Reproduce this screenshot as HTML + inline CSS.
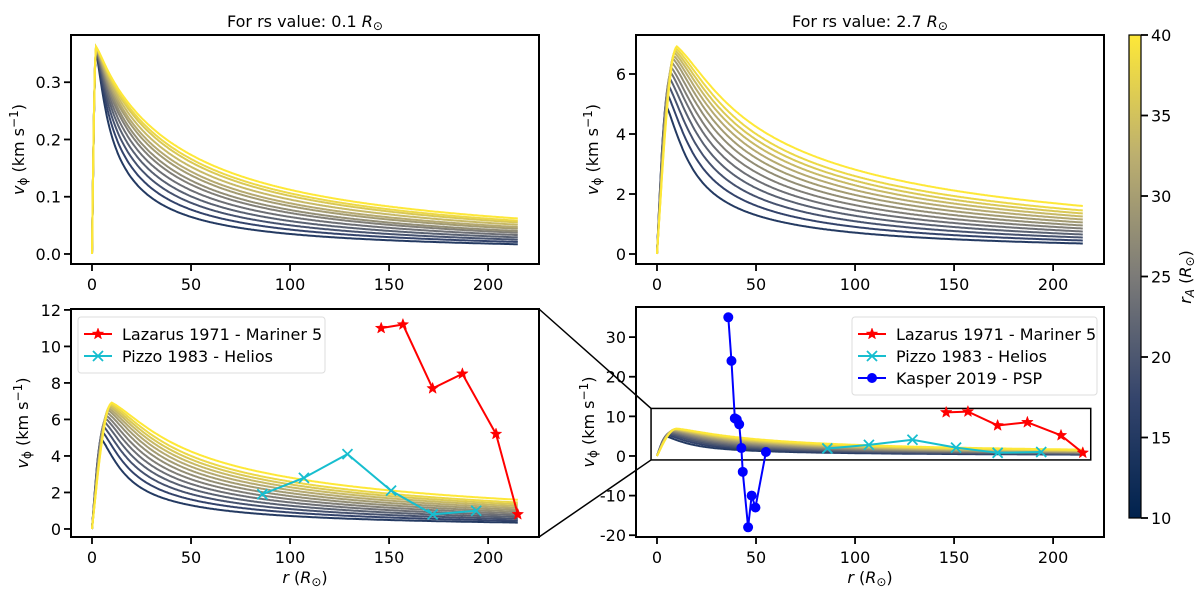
<!DOCTYPE html>
<html><head><meta charset="utf-8"><style>
body{margin:0;background:#fff;}
svg text{font-family:"DejaVu Sans","Liberation Sans",sans-serif;fill:#000;}
</style></head><body>
<svg id="fig" width="1200" height="592" viewBox="0 0 1200 592" xmlns="http://www.w3.org/2000/svg">
<defs>
<linearGradient id="cbgrad" x1="0" y1="1" x2="0" y2="0">
<stop offset="0" stop-color="#00224e"/><stop offset="0.25" stop-color="#35456c"/>
<stop offset="0.5" stop-color="#7c7b78"/><stop offset="0.75" stop-color="#bcaf6f"/><stop offset="1" stop-color="#fee838"/>
</linearGradient>
</defs>
</svg>
<script>
// ---- data ----
const rAValues = [10,12.5,15,17.5,20,22.5,25,27.5,30,32.5,35,37.5,40];
const rsSmallPeak = [0.355,0.356,0.357,0.358,0.358,0.359,0.36,0.36,0.361,0.361,0.362,0.362,0.362];
const rsSmallPeakR = [2,2,2,2,2,2,2,2,2,2,2,2,2];
const rsSmallEnd = [0.017,0.021,0.025,0.029,0.033,0.037,0.040,0.044,0.047,0.051,0.055,0.058,0.062];
const rsLargePeak = [4.9,5.3,5.6,5.85,6.05,6.2,6.35,6.5,6.6,6.7,6.78,6.85,6.92];
const rsLargePeakR = [5,5.5,6,6.5,7,7.5,8,8.3,8.7,9,9.3,9.7,10];
const rsLargeEnd = [0.35,0.45,0.55,0.65,0.75,0.85,0.95,1.05,1.15,1.25,1.35,1.45,1.6];
const lazarusR = [146,157,172,187,204,215];
const lazarusV = [11,11.2,7.7,8.5,5.2,0.8];
const pizzoR = [86,107,129,151,172,194];
const pizzoV = [1.9,2.8,4.1,2.1,0.8,1.0];
const kasperR = [36,37.6,39.3,40.3,41.5,42.6,43.3,46,47.8,49.7,55];
const kasperV = [35,24,9.5,9.2,8,2,-4,-18,-10,-13,1];
const cbTicks = [10,15,20,25,30,35,40];

const NS="http://www.w3.org/2000/svg";
const svg=document.getElementById('fig');
const FS=16;
function el(tag,attrs,parent){const e=document.createElementNS(NS,tag);for(const k in attrs)e.setAttribute(k,attrs[k]);(parent||svg).appendChild(e);return e;}
function cividis(t){const s=[[0,0,34,78],[0.25,53,69,108],[0.5,124,123,120],[0.75,188,175,111],[1,254,232,56]];
 for(let i=0;i<s.length-1;i++){if(t<=s[i+1][0]){const f=(t-s[i][0])/(s[i+1][0]-s[i][0]);return `rgb(${[1,2,3].map(j=>Math.round(s[i][j]+f*(s[i+1][j]-s[i][j]))).join(',')})`;}}return 'rgb(254,232,56)';}
function colorFor(rA){return cividis(0.17+0.83*(rA-10)/30);}
function curveVal(r,vp,rp,vEnd){
 const s=(vp*rp-vEnd*215)/(vEnd-vp);
 if(r<rp){const u=r/rp;return vp*Math.sin(Math.PI/2*u)*(1-0.05*(1-u));}
 const base=vp*(rp+s)/(r+s);
 // soften the hump just after the peak
 const h=Math.exp(-(r-rp)/(rp*1.2));
 return base+(vp-base)*h*0.5;
}

function makeAxes(name,box,xdom,ydom){
 const g=el('g',{});
 
 
 const sx=v=>box.x0+(v-xdom[0])/(xdom[1]-xdom[0])*(box.x1-box.x0);
 const sy=v=>box.y1-(v-ydom[0])/(ydom[1]-ydom[0])*(box.y1-box.y0);
 return {g,sx,sy,box};
}
function frame(ax,xticks,yticks,xlab,ylab,ylabX,yfmt){
 const {g,sx,sy,box}=ax;
 const r=el('rect',{x:box.x0,y:box.y0,width:box.x1-box.x0,height:box.y1-box.y0,fill:'none',stroke:'#000','stroke-width':2},g);
 
 
 xticks.forEach(v=>{el('line',{x1:sx(v),x2:sx(v),y1:box.y1,y2:box.y1+7,stroke:'#000','stroke-width':1.8},g);
  const t=el('text',{x:sx(v),y:box.y1+26,'text-anchor':'middle','font-size':FS},g);t.textContent=v;
  
  });
 yticks.forEach(v=>{el('line',{x1:box.x0-7,x2:box.x0,y1:sy(v),y2:sy(v),stroke:'#000','stroke-width':1.8},g);
  const t=el('text',{x:box.x0-10,y:sy(v)+6,'text-anchor':'end','font-size':FS},g);t.textContent=yfmt?yfmt(v):v;
  
  });
 if(xlab){const t=el('text',{x:(box.x0+box.x1)/2,y:box.y1+46,'text-anchor':'middle','font-size':FS},g);
  t.innerHTML='<tspan font-style="italic">r</tspan> (<tspan font-style="italic">R</tspan><tspan font-size="12" dy="3">⊙</tspan><tspan dy="-3">)</tspan>';
  
  }
 const cy=(box.y0+box.y1)/2;
 const yl=el('text',{x:ylabX,y:cy,'text-anchor':'middle','font-size':FS,transform:`rotate(-90 ${ylabX} ${cy})`},g);
 yl.innerHTML='<tspan font-style="italic">v</tspan><tspan font-size="12" dy="3">ϕ</tspan><tspan dy="-3"> (km s</tspan><tspan font-size="12" dy="-6">−1</tspan><tspan dy="6">)</tspan>';
 
 
}
function drawFamily(ax,peaks,peakR,ends){
 const g=el('g',{},ax.g);
 
 
 rAValues.forEach((rA,i)=>{
  let d='';
  for(let r=0;r<=215;r+=0.5){d+=(r===0?'M':'L')+ax.sx(r).toFixed(1)+','+ax.sy(curveVal(r,peaks[i],peakR[i],ends[i])).toFixed(1);}
  const p=el('path',{d,fill:'none',stroke:colorFor(rA),'stroke-width':2},g);
  
  
 });
}
function star(cx,cy,R,col,g){let pts=[];for(let k=0;k<10;k++){const a=-Math.PI/2+k*Math.PI/5;const rr=k%2?R*0.42:R;pts.push((cx+rr*Math.cos(a)).toFixed(1)+','+(cy+rr*Math.sin(a)).toFixed(1));}
 return el('polygon',{points:pts.join(' '),fill:col,stroke:col,'stroke-width':0.5},g);}
function series(ax,rs,vs,col,marker,name){
 const g=el('g',{},ax.g);
 
 
 el('polyline',{points:rs.map((r,i)=>ax.sx(r)+','+ax.sy(vs[i])).join(' '),fill:'none',stroke:col,'stroke-width':2},g);
 rs.forEach((r,i)=>{const x=ax.sx(r),y=ax.sy(vs[i]);let m;
  if(marker==='star')m=star(x,y,6,col,g);
  else if(marker==='x')m=el('path',{d:`M${x-5},${y-5}L${x+5},${y+5}M${x-5},${y+5}L${x+5},${y-5}`,stroke:col,'stroke-width':1.8},g);
  else m=el('circle',{cx:x,cy:y,r:5,fill:col},g);
  
  });
}
function legend(x,y,w,entries,name){
 const g=el('g',{});
 
 
 el('rect',{x,y,width:w,height:12+entries.length*22,rx:3,fill:'#fff',stroke:'#ddd','stroke-width':1},g);
 entries.forEach((e,i)=>{const cy=y+17+i*22;
  el('line',{x1:x+6,x2:x+34,y1:cy,y2:cy,stroke:e.c,'stroke-width':2},g);
  if(e.m==='star')star(x+20,cy,6,e.c,g);
  else if(e.m==='x')el('path',{d:`M${x+15},${cy-5}L${x+25},${cy+5}M${x+15},${cy+5}L${x+25},${cy-5}`,stroke:e.c,'stroke-width':1.8},g);
  else el('circle',{cx:x+20,cy,r:5,fill:e.c},g);
  const t=el('text',{x:x+44,y:cy+6,'font-size':FS},g);t.textContent=e.t;
  
  });
}

// top-left
const axTL=makeAxes('panel-top-left',{x0:71,x1:539,y0:35,y1:264},[-10.6,225.7],[-0.0175,0.3825]);
drawFamily(axTL,rsSmallPeak,rsSmallPeakR,rsSmallEnd);
frame(axTL,[0,50,100,150,200],[0,0.1,0.2,0.3],false,'',24,v=>v.toFixed(1));
let tt=el('text',{x:305,y:27,'text-anchor':'middle','font-size':FS});
tt.innerHTML='For rs value: 0.1 <tspan font-style="italic">R</tspan><tspan font-size="12" dy="3">⊙</tspan>';



// top-right
const axTR=makeAxes('panel-top-right',{x0:636,x1:1104,y0:35,y1:264},[-10.6,225.7],[-0.333,7.3]);
drawFamily(axTR,rsLargePeak,rsLargePeakR,rsLargeEnd);
frame(axTR,[0,50,100,150,200],[0,2,4,6],false,'',598);
tt=el('text',{x:870,y:27,'text-anchor':'middle','font-size':FS});
tt.innerHTML='For rs value: 2.7 <tspan font-style="italic">R</tspan><tspan font-size="12" dy="3">⊙</tspan>';



// bottom-left
const axBL=makeAxes('panel-bottom-left',{x0:71,x1:539,y0:309,y1:537},[-10.6,225.7],[-0.44,12.05]);
drawFamily(axBL,rsLargePeak,rsLargePeakR,rsLargeEnd);
series(axBL,pizzoR,pizzoV,'#17becf','x','pizzo-series');
series(axBL,lazarusR,lazarusV,'#ff0000','star','lazarus-series');
frame(axBL,[0,50,100,150,200],[0,2,4,6,8,10,12],true,'',28);
legend(78,317,247,[{t:'Lazarus 1971 - Mariner 5',c:'#ff0000',m:'star'},{t:'Pizzo 1983 - Helios',c:'#17becf',m:'x'}],'legend-bottom-left');

// bottom-right
const axBR=makeAxes('panel-bottom-right',{x0:636,x1:1104,y0:307,y1:537},[-10.6,225.7],[-20.45,37.6]);
drawFamily(axBR,rsLargePeak,rsLargePeakR,rsLargeEnd);
const inset=el('rect',{x:axBR.sx(-3),y:axBR.sy(12),width:axBR.sx(219)-axBR.sx(-3),height:axBR.sy(-1)-axBR.sy(12),fill:'none',stroke:'#000','stroke-width':1.5},axBR.g);


series(axBR,pizzoR,pizzoV,'#17becf','x','pizzo-series');
series(axBR,lazarusR,lazarusV,'#ff0000','star','lazarus-series');
series(axBR,kasperR,kasperV,'#0000ff','dot','kasper-series');
frame(axBR,[0,50,100,150,200],[-20,-10,0,10,20,30],true,'',594);
legend(852,317,245,[{t:'Lazarus 1971 - Mariner 5',c:'#ff0000',m:'star'},{t:'Pizzo 1983 - Helios',c:'#17becf',m:'x'},{t:'Kasper 2019 - PSP',c:'#0000ff',m:'dot'}],'legend-bottom-right');

// connectors
let c1=el('line',{x1:539,y1:309,x2:axBR.sx(-3),y2:axBR.sy(12),stroke:'#000','stroke-width':1.5});


let c2=el('line',{x1:539,y1:537,x2:axBR.sx(-3),y2:axBR.sy(-1),stroke:'#000','stroke-width':1.5});



// colorbar
const cb=el('g',{});


el('rect',{x:1129,y:35,width:12,height:483,fill:'url(#cbgrad)',stroke:'#000','stroke-width':1.2},cb);
const cby=v=>518-(v-10)/30*483;
cbTicks.forEach(v=>{el('line',{x1:1141,x2:1148,y1:cby(v),y2:cby(v),stroke:'#000','stroke-width':1.8},cb);
 const t=el('text',{x:1151,y:cby(v)+6,'font-size':FS},cb);t.textContent=v;
 
 });
const cl=el('text',{x:1191,y:277,'text-anchor':'middle','font-size':FS,transform:'rotate(-90 1191 277)'},cb);
cl.innerHTML='<tspan font-style="italic">r</tspan><tspan font-size="12" dy="3" font-style="italic">A</tspan><tspan dy="-3"> (</tspan><tspan font-style="italic">R</tspan><tspan font-size="12" dy="3">⊙</tspan><tspan dy="-3">)</tspan>';


</script>
</body></html>
